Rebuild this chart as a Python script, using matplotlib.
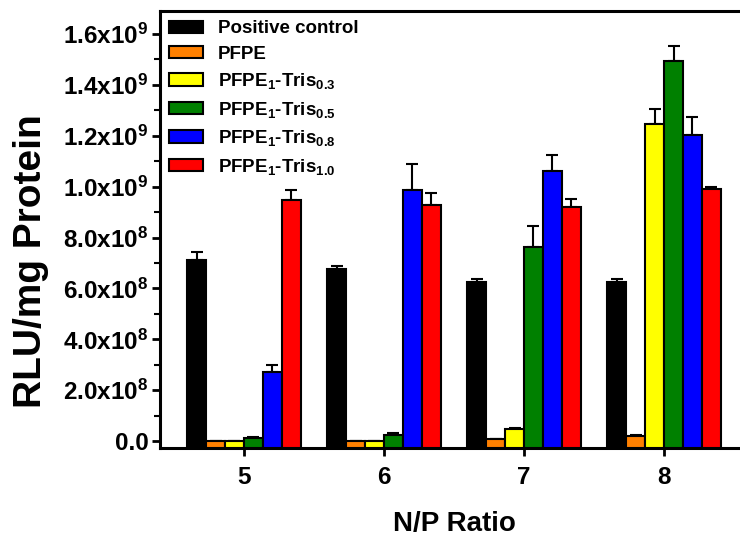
import numpy as np
import matplotlib.pyplot as plt
from matplotlib.ticker import FuncFormatter, MultipleLocator

plt.rcParams['font.family'] = 'Liberation Sans'
plt.rcParams['font.weight'] = 'bold'
plt.rcParams['mathtext.fontset'] = 'custom'
plt.rcParams['mathtext.rm'] = 'Liberation Sans:bold'
plt.rcParams['mathtext.it'] = 'Liberation Sans:bold'
plt.rcParams['mathtext.bf'] = 'Liberation Sans:bold'

ratios = ['5', '6', '7', '8']
series = ['Positive control', 'PFPE', r'PFPE$_1$-Tris$_{0.3}$', r'PFPE$_1$-Tris$_{0.5}$',
          r'PFPE$_1$-Tris$_{0.8}$', r'PFPE$_1$-Tris$_{1.0}$']
colors = ['#000000', '#FF8000', '#FFFF00', '#008000', '#0000FF', '#FF0000']

control = [7.11e8, 6.75e8, 6.26e8, 6.26e8]
pfpe = [1e6, 1e6, 7e6, 2.1e7]
tris03 = [1e6, 1e6, 4.6e7, 1.246e9]
tris05 = [1.3e7, 2.4e7, 7.61e8, 1.492e9]
tris08 = [2.72e8, 9.86e8, 1.062e9, 1.201e9]
tris10 = [9.47e8, 9.27e8, 9.18e8, 9.9e8]

control_err = [3.2e7, 1.5e7, 1.2e7, 1.2e7]
pfpe_err = [0, 0, 0, 4e6]
tris03_err = [0, 0, 6e6, 5.8e7]
tris05_err = [2e6, 7e6, 8.4e7, 6e7]
tris08_err = [2.9e7, 1.03e8, 6.1e7, 7.4e7]
tris10_err = [3.9e7, 4.9e7, 3.2e7, 8e6]

values = [control, pfpe, tris03, tris05, tris08, tris10]
errors = [control_err, pfpe_err, tris03_err, tris05_err, tris08_err, tris10_err]

fig = plt.figure(figsize=(7.4, 5.37), dpi=100)
ax = fig.add_axes([0.216, 0.1657, 0.795, 0.8138])

ymin, ymax = -2.7e7, 1.69e9
x = np.arange(5, 9)
w = 0.135
for i, (vals, errs) in enumerate(zip(values, errors)):
    pos = x + (i - 2.5) * w
    vals = np.array(vals)
    ax.bar(pos, vals - ymin, bottom=ymin, width=w, color=colors[i],
           edgecolor='black', linewidth=1.5, label=series[i], zorder=3)
    ax.errorbar(pos, vals, yerr=[np.zeros(4), errs], fmt='none', ecolor='black',
                elinewidth=1.5, capsize=4, capthick=1.5, zorder=2)

ax.set_xlim(4.4, 8.6)
ax.set_ylim(ymin, ymax)
ax.set_xticks(x)
ax.set_xticklabels(ratios)
ax.yaxis.set_major_locator(MultipleLocator(2e8))
ax.yaxis.set_minor_locator(MultipleLocator(1e8))


def fmt(v, pos):
    if abs(v) < 1:
        return '0.0'
    e = int(np.floor(np.log10(abs(v))))
    m = v / 10 ** e
    return '%.1fx10$^{%d}$' % (m, e)


ax.yaxis.set_major_formatter(FuncFormatter(fmt))

for s in ['top', 'left', 'bottom', 'right']:
    ax.spines[s].set_linewidth(2.2)
ax.tick_params(axis='both', which='major', labelsize=17.5, width=2, length=6, direction='out')
ax.tick_params(axis='y', which='major', pad=2)
ax.tick_params(axis='y', which='minor', width=1.5, length=4, direction='out')
ax.tick_params(axis='x', which='major', pad=7)

ax.set_xlabel('N/P Ratio', fontsize=20, fontweight='bold', labelpad=16)
fig.text(31 / 740, 1 - 261 / 537, 'RLU/mg Protein', rotation=90, ha='center', va='center',
         fontsize=28, fontweight='bold')

ax.legend(loc='upper left', bbox_to_anchor=(0.0, 1.0), frameon=False, fontsize=13.5,
          handlelength=1.8, handleheight=0.65, handletextpad=0.8, labelspacing=0.45,
          borderaxespad=0.3, borderpad=0.2)

plt.savefig('out.png', dpi=100)
